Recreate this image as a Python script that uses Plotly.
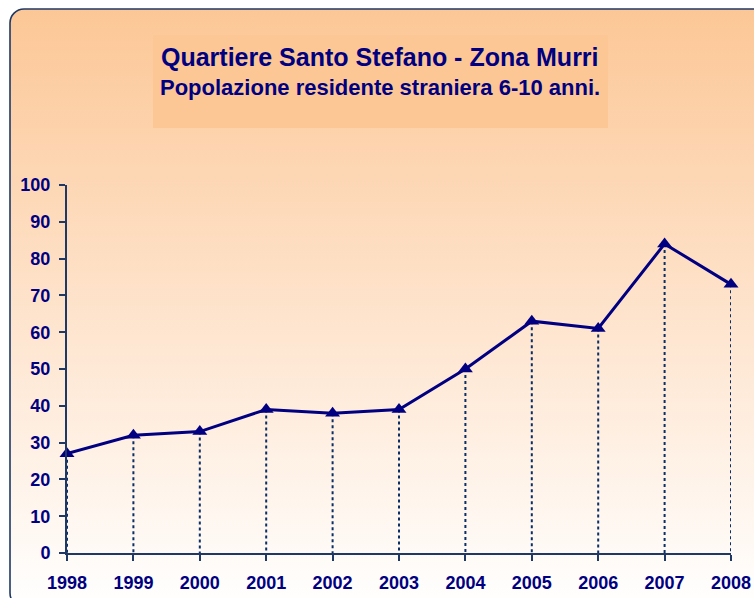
import base64
import plotly.graph_objects as go

years = [1998, 1999, 2000, 2001, 2002, 2003, 2004, 2005, 2006, 2007, 2008]
values = [27, 32, 33, 39, 38, 39, 50, 63, 61, 84, 73]
y_ticks = list(range(0, 101, 10))
title_line1 = "Quartiere Santo Stefano - Zona Murri"
title_line2 = "Popolazione residente straniera 6-10 anni."

NAVY = "#000080"
AXIS = "#1F3864"
FONT = "Liberation Sans, Arial, sans-serif"

W, H = 754, 598
ML = 67            # y axis at x=67
MT = 185           # value 100 at y=185
MR = W - 731       # 2008 at x=731
MB = H - 553       # x axis at y=553
PW, PH = W - ML - MR, H - MT - MB


def px_x(p):
    return (p - ML) / PW


def px_y(p):
    return (H - MB - p) / PH


# background panel: gradient with rounded border
bx0, by0, bx1, by1 = 9, 8, 770, 608
bw, bh = bx1 - bx0, by1 - by0
svg = (
    f"<svg xmlns='http://www.w3.org/2000/svg' width='{bw}' height='{bh}' viewBox='0 0 {bw} {bh}' preserveAspectRatio='none'>"
    "<defs><linearGradient id='g' x1='0' y1='0' x2='0' y2='1'>"
    "<stop offset='0' stop-color='#FCC796'/>"
    "<stop offset='0.55' stop-color='#FEE6D1'/>"
    "<stop offset='1' stop-color='#FFFFFF'/>"
    "</linearGradient></defs>"
    f"<rect x='1' y='1' width='{bw-2}' height='{bh-2}' rx='14' ry='14' fill='url(#g)' stroke='{AXIS}' stroke-width='1.6'/>"
    "</svg>"
)
src = "data:image/svg+xml;base64," + base64.b64encode(svg.encode()).decode()

# drop lines
drop_x, drop_y = [], []
for yr, v in zip(years, values):
    drop_x += [yr, yr, None]
    drop_y += [v, 0, None]

fig = go.Figure()
fig.add_trace(go.Scatter(
    x=drop_x, y=drop_y, mode="lines",
    line=dict(color="#0A2F66", width=2, dash="3px,3px"),
    hoverinfo="skip", showlegend=False, cliponaxis=False,
))
fig.add_trace(go.Scatter(
    x=years, y=values, mode="lines+markers",
    line=dict(color=NAVY, width=3),
    marker=dict(symbol="triangle-up", size=13, color=NAVY),
    showlegend=False, cliponaxis=False,
))

fig.update_layout(
    width=W, height=H,
    margin=dict(l=ML, r=MR, t=MT, b=MB, pad=0, autoexpand=False),
    paper_bgcolor="white",
    plot_bgcolor="rgba(0,0,0,0)",
    font=dict(family=FONT, color=NAVY),
    images=[dict(
        source=src, xref="paper", yref="paper",
        x=px_x(bx0), y=px_y(by0), sizex=bw / PW, sizey=bh / PH,
        xanchor="left", yanchor="top", sizing="stretch", layer="below",
    )],
    shapes=[dict(
        type="rect", xref="paper", yref="paper",
        x0=px_x(153), x1=px_x(608), y0=px_y(128), y1=px_y(35),
        fillcolor="#FDC795", line=dict(width=0), layer="below",
    )],
    annotations=[
        dict(text=f"<b>{title_line1}</b>", xref="paper", yref="paper",
             x=px_x(380), y=px_y(57), xanchor="center", yanchor="middle",
             showarrow=False, font=dict(size=25, color=NAVY, family=FONT)),
        dict(text=f"<b>{title_line2}</b>", xref="paper", yref="paper",
             x=px_x(380), y=px_y(87), xanchor="center", yanchor="middle",
             showarrow=False, font=dict(size=22, color=NAVY, family=FONT)),
    ],
    xaxis=dict(
        range=[years[0], years[-1]], tickmode="array", tickvals=years,
        ticktext=[f"<b>{y}</b>" for y in years],
        showline=True, linecolor=AXIS, linewidth=2,
        ticks="outside", ticklen=6, tickcolor=AXIS, tickwidth=2,
        showgrid=False, zeroline=False, fixedrange=True, automargin=False,
        tickfont=dict(size=18, color=NAVY, family=FONT),
        ticklabelstandoff=6,
    ),
    yaxis=dict(
        range=[0, 100], tickmode="array", tickvals=y_ticks,
        ticktext=[f"<b>{t}</b>" for t in y_ticks],
        showline=True, linecolor=AXIS, linewidth=2,
        ticks="outside", ticklen=6, tickcolor=AXIS, tickwidth=2,
        showgrid=False, zeroline=False, fixedrange=True, automargin=False,
        tickfont=dict(size=18, color=NAVY, family=FONT),
        ticklabelstandoff=5,
    ),
)

fig.write_html(
    "out.html",
    config={"displayModeBar": False},
    post_script="document.body.style.margin='0';document.body.style.overflow='hidden';",
)
